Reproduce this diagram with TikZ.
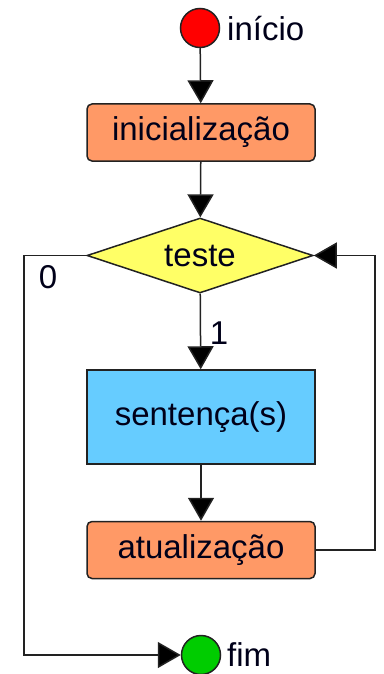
\documentclass[tikz,border=0pt]{standalone}
\usepackage{fontspec}
\setmainfont{Liberation Sans}
\usetikzlibrary{arrows.meta,shapes.geometric}
\definecolor{cred}{HTML}{FF0000}
\definecolor{cgreen}{HTML}{00CC00}
\definecolor{corange}{HTML}{FF9966}
\definecolor{cyellow}{HTML}{FFFF66}
\definecolor{cblue}{HTML}{66CCFF}
\definecolor{cline}{HTML}{222222}
\tikzset{
  base/.style={draw=cline, line width=1.5pt, font=\fontsize{33}{40}\selectfont, text=black!90!blue, inner sep=0pt},
  terminal/.style={base, circle, minimum size=39pt},
  procbox/.style={base, rectangle, rounded corners=5pt, fill=corange, minimum width=228pt, minimum height=57pt},
  stmtbox/.style={base, rectangle, fill=cblue, minimum width=228pt, minimum height=94pt},
  decision/.style={base, diamond, aspect=3, fill=cyellow, minimum width=226pt, minimum height=75pt},
  lbl/.style={font=\fontsize{33}{40}\selectfont, text=black!90!blue, inner sep=0pt},
  arr/.style={draw=cline, line width=1.5pt, -{Triangle[length=23pt,width=26pt,fill=black]}},
  conn/.style={draw=cline, line width=1.5pt}
}
\begin{document}
\begin{tikzpicture}[x=1pt,y=-1pt]
\useasboundingbox (0,0) rectangle (383,674);
\node[terminal, fill=cred] (start) at (200,28) {};
\node[lbl, anchor=west] (tstart) at (227,29) {início};
\node[procbox] (init) at (201,132.5) {inicialização};
\node[decision] (test) at (200,255.5) {teste};
\node[stmtbox] (sent) at (201,417) {sentença(s)};
\node[procbox] (upd) at (201,550) {atualização};
\node[terminal, fill=cgreen] (end) at (201,655) {};
\node[lbl, anchor=west] (tend) at (227,655) {fim};
\coordinate (lloop) at (24,255.5);
\coordinate (rloop) at (375,255.5);
\node[lbl] (lzero) at (48,277) {0};
\node[lbl] (lone) at (219,333) {1};
\draw[arr] (start) -- (init);
\draw[arr] (init) -- (test);
\draw[arr] (test) -- (sent);
\draw[arr] (sent) -- (upd);
\draw[arr] (upd.east) -| (rloop) -- (test.east);
\draw[arr] (test.west) -- (lloop) |- (end.west);
\end{tikzpicture}
\end{document}
